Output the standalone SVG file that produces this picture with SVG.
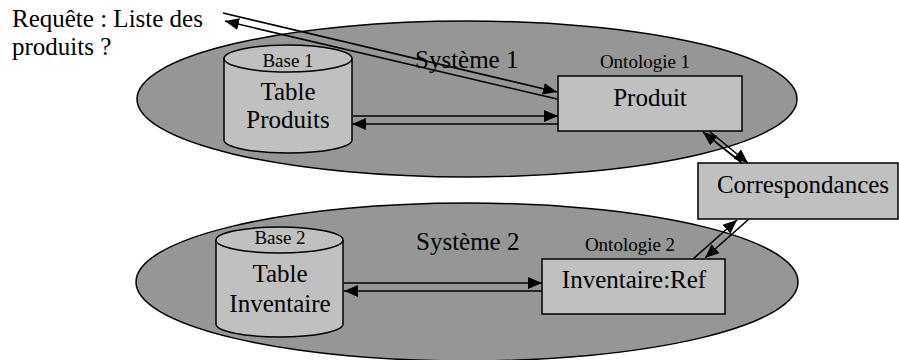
<svg xmlns="http://www.w3.org/2000/svg" width="899" height="360" viewBox="0 0 899 360">
<style>
.sys{fill:#969696;stroke:#000;stroke-width:1.5}
.box{fill:#c0c0c0;stroke:#000;stroke-width:1.5}
.t{font-family:"Liberation Serif","Times New Roman",serif;fill:#000}
.big{font-size:25px}
.sm{font-size:19px}
.con line{stroke:#000;stroke-width:1.6;fill:none}
</style>
<defs>
<marker id="ah" markerUnits="userSpaceOnUse" markerWidth="15" markerHeight="14" refX="14" refY="7" orient="auto">
<path d="M0,1 L14,7 L0,13 z" fill="#000"/>
</marker>
</defs>
<rect width="899" height="360" fill="#fff"/>
<g id="systeme1">
<ellipse class="sys" cx="467" cy="99" rx="330" ry="78"/>
<text class="t big" x="415" y="68">Système 1</text>
</g>
<g id="systeme2">
<ellipse class="sys" cx="467" cy="282" rx="331" ry="79"/>
<text class="t big" x="416" y="250">Système 2</text>
</g>
<g id="base1">
<path class="box" d="M224,58.5 L224,140 A64,13 0 0 0 352,140 L352,58.5"/>
<ellipse class="box" cx="288" cy="58.5" rx="64" ry="13.5"/>
<text class="t sm" x="288" y="67" text-anchor="middle">Base 1</text>
<text class="t big" x="288" y="100" text-anchor="middle">Table</text>
<text class="t big" x="288" y="128" text-anchor="middle">Produits</text>
</g>
<g id="base2">
<path class="box" d="M216,240 L216,324 A63.5,13 0 0 0 343,324 L343,240"/>
<ellipse class="box" cx="279.5" cy="240" rx="63.5" ry="13"/>
<text class="t sm" x="280" y="244" text-anchor="middle">Base 2</text>
<text class="t big" x="280" y="282" text-anchor="middle">Table</text>
<text class="t big" x="280" y="312" text-anchor="middle">Inventaire</text>
</g>
<g id="ontologie1">
<text class="t sm" x="645" y="68" text-anchor="middle">Ontologie 1</text>
<rect class="box" x="558" y="76" width="184" height="55"/>
<text class="t big" x="650" y="106" text-anchor="middle">Produit</text>
</g>
<g id="ontologie2">
<text class="t sm" x="630" y="251" text-anchor="middle">Ontologie 2</text>
<rect class="box" x="542" y="259" width="183" height="55"/>
<text class="t big" x="634" y="288" text-anchor="middle">Inventaire:Ref</text>
</g>
<g id="correspondances">
<rect class="box" x="698" y="163" width="200" height="56"/>
<text class="t big" x="803" y="193" text-anchor="middle">Correspondances</text>
</g>
<g id="requete">
<text class="t big" x="12" y="27">Requête : Liste des</text>
<text class="t big" x="12" y="55">produits ?</text>
</g>
<g id="connectors" class="con">
<line x1="223" y1="13" x2="557" y2="92" marker-end="url(#ah)"/>
<line x1="557" y1="99" x2="225" y2="21" marker-end="url(#ah)"/>
<line x1="353" y1="116" x2="558" y2="116" marker-end="url(#ah)"/>
<line x1="558" y1="124" x2="352" y2="124" marker-end="url(#ah)"/>
<line x1="344" y1="283" x2="542" y2="283" marker-end="url(#ah)"/>
<line x1="542" y1="291" x2="344" y2="291" marker-end="url(#ah)"/>
<line x1="742" y1="163" x2="703" y2="132" marker-end="url(#ah)"/>
<line x1="709" y1="131" x2="748" y2="163" marker-end="url(#ah)"/>
<line x1="693" y1="259" x2="737" y2="220" marker-end="url(#ah)"/>
<line x1="749" y1="219" x2="705" y2="258" marker-end="url(#ah)"/>
</g>
</svg>
